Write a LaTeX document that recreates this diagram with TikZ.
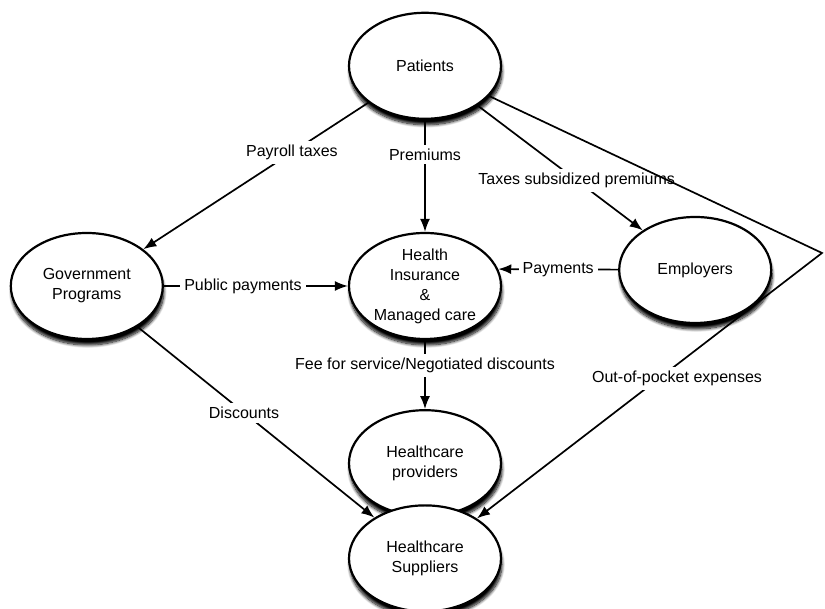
\documentclass[tikz,border=0pt]{standalone}
\usepackage{fontspec}
\setmainfont{Liberation Sans}
\usetikzlibrary{shapes.geometric,positioning,arrows.meta,shadows.blur}

\tikzset{
    party/.style={ellipse, draw, line width=2.2pt, fill=white, minimum width=152pt, minimum height=106pt, inner sep=0pt, align=center, font=\fontsize{16}{20}\selectfont, blur shadow={shadow xshift=1pt, shadow yshift=-6pt, shadow blur steps=10, shadow blur radius=3pt, shadow opacity=100}},
    flow/.style={-{Latex[length=13pt,width=10pt]}, line width=1.7pt},
    lbl/.style={fill=white, inner sep=4pt, font=\fontsize{16}{18}\selectfont},
}

\begin{document}
\begin{tikzpicture}[x=1pt, y=1pt]
    \useasboundingbox (0,0) rectangle (825,609);
    \node (health) [party] at (425,323) {Health\\Insurance\\\&\\Managed care};
    \node (patients) [party, above=112pt of health] {Patients};
    \node (gov) [party, left=184pt of health] {Government\\Programs};
    \node (employers) [party, right=116pt of health, yshift=16pt] {Employers};
    \node (providers) [party, below=69pt of health] {Healthcare\\providers};
    \node (suppliers) [party, below=-13pt of providers] {Healthcare\\Suppliers};
    \coordinate (bend) at (822,356);

    \draw [flow] (patients) -- node [lbl, pos=0.34] {Payroll taxes} (gov);
    \draw [flow] (patients) -- node [lbl, pos=0.31] {Premiums} (health);
    \draw [flow] (patients) -- node [lbl, pos=0.6] {Taxes subsidized premiums} (employers);
    \draw [flow] (gov) -- node [lbl, pos=0.43] {Public payments} (health);
    \draw [flow] (employers) -- node [lbl, pos=0.5] {Payments} (health.13);
    \draw [flow] (health) -- node [lbl, pos=0.37] {Fee for service/Negotiated discounts} (providers);
    \draw [flow] (gov) -- node [lbl, pos=0.45] {Discounts} (suppliers);
    \draw [flow] (patients) -- (bend) -- node [lbl, pos=0.42, below=2pt] {Out-of-pocket expenses} (suppliers);
\end{tikzpicture}
\end{document}
